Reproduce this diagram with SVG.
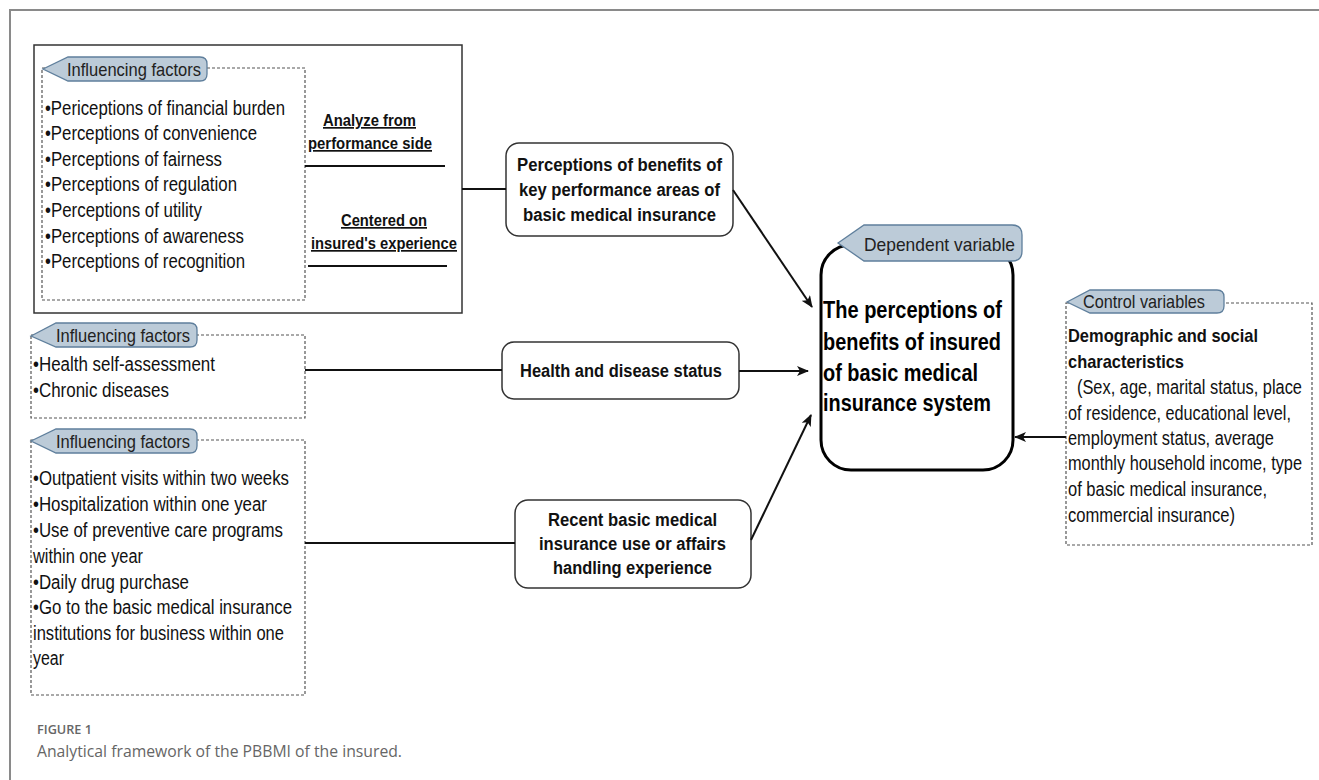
<svg xmlns="http://www.w3.org/2000/svg" width="1319" height="780" viewBox="0 0 1319 780">
<defs>
<style>
.frame{fill:none;stroke:#8a8a8a;stroke-width:2}
.solid{fill:none;stroke:#333;stroke-width:1.5}
.dot{fill:none;stroke:#555;stroke-width:1.2;stroke-dasharray:3 2}
.tag{fill:#bccbd8;stroke:#5f7f9c;stroke-width:1.3}
.node{fill:#fff;stroke:#333;stroke-width:1.5}
.main{fill:#fff;stroke:#000;stroke-width:3}
.t{font-family:"Liberation Sans",Arial,sans-serif;font-size:20px;fill:#111}
.tb{font-family:"Liberation Sans",Arial,sans-serif;font-size:18px;font-weight:bold;fill:#111}
.tm{font-family:"Liberation Sans",Arial,sans-serif;font-size:23px;font-weight:bold;fill:#000}
.tu{font-family:"Liberation Sans",Arial,sans-serif;font-size:17px;font-weight:bold;fill:#111;text-decoration:underline}
.tg{font-family:"Liberation Sans",Arial,sans-serif;font-size:19px;fill:#222}
.cap1{font-family:"Open Sans","Liberation Sans",sans-serif;font-size:13px;font-weight:600;fill:#666}
.cap2{font-family:"Open Sans","Liberation Sans",sans-serif;font-size:16px;fill:#666}
.ln{fill:none;stroke:#111;stroke-width:2}
</style>
<marker id="ah" viewBox="0 0 12 10" refX="11" refY="5" markerWidth="12" markerHeight="10" markerUnits="userSpaceOnUse" orient="auto">
<path d="M0,0 L12,5 L0,10 L3,5 Z" fill="#111"/>
</marker>
</defs>

<path class="frame" d="M10,780 V10 H1319"/>

<g id="factors-performance">
<rect class="solid" x="34" y="45" width="428" height="268"/>
<rect class="dot" x="42" y="68" width="263" height="232"/>
<path class="tag" d="M43,69 L68,57 H200 Q207,57 207,64 V74 Q207,81 200,81 H68 Z"/>
<text class="tg" x="67" y="76" textLength="134" lengthAdjust="spacingAndGlyphs">Influencing factors</text>
<text class="t" x="45" y="115" textLength="240" lengthAdjust="spacingAndGlyphs">•Periceptions of financial burden</text>
<text class="t" x="45" y="140" textLength="212" lengthAdjust="spacingAndGlyphs">•Perceptions of convenience</text>
<text class="t" x="45" y="166" textLength="177" lengthAdjust="spacingAndGlyphs">•Perceptions of fairness</text>
<text class="t" x="45" y="191" textLength="192" lengthAdjust="spacingAndGlyphs">•Perceptions of regulation</text>
<text class="t" x="45" y="217" textLength="157" lengthAdjust="spacingAndGlyphs">•Perceptions of utility</text>
<text class="t" x="45" y="243" textLength="199" lengthAdjust="spacingAndGlyphs">•Perceptions of awareness</text>
<text class="t" x="45" y="268" textLength="200" lengthAdjust="spacingAndGlyphs">•Perceptions of recognition</text>
<text class="tu" x="369.5" y="126" text-anchor="middle" textLength="93" lengthAdjust="spacingAndGlyphs">Analyze from</text>
<text class="tu" x="370" y="149" text-anchor="middle" textLength="124" lengthAdjust="spacingAndGlyphs">performance side</text>
<line class="ln" x1="305" y1="166" x2="445" y2="166"/>
<text class="tu" x="384" y="226" text-anchor="middle" textLength="86" lengthAdjust="spacingAndGlyphs">Centered on</text>
<text class="tu" x="384" y="249" text-anchor="middle" textLength="146" lengthAdjust="spacingAndGlyphs">insured's experience</text>
<line class="ln" x1="308" y1="266" x2="447" y2="266"/>
</g>

<g id="factors-health">
<rect class="dot" x="31" y="335" width="274" height="83"/>
<path class="tag" d="M31,336 L56,323 H190 Q197,323 197,330 V340 Q197,347 190,347 H56 Z"/>
<text class="tg" x="56" y="342" textLength="134" lengthAdjust="spacingAndGlyphs">Influencing factors</text>
<text class="t" x="33" y="371" textLength="182" lengthAdjust="spacingAndGlyphs">•Health self-assessment</text>
<text class="t" x="33" y="397" textLength="136" lengthAdjust="spacingAndGlyphs">•Chronic diseases</text>
</g>

<g id="factors-use">
<rect class="dot" x="31" y="440" width="274" height="255"/>
<path class="tag" d="M31,441 L56,429 H190 Q197,429 197,436 V446 Q197,453 190,453 H56 Z"/>
<text class="tg" x="56" y="448" textLength="134" lengthAdjust="spacingAndGlyphs">Influencing factors</text>
<text class="t" x="33" y="485" textLength="256" lengthAdjust="spacingAndGlyphs">•Outpatient visits within two weeks</text>
<text class="t" x="33" y="511" textLength="234" lengthAdjust="spacingAndGlyphs">•Hospitalization within one year</text>
<text class="t" x="33" y="537" textLength="250" lengthAdjust="spacingAndGlyphs">•Use of preventive care programs</text>
<text class="t" x="33" y="563" textLength="110" lengthAdjust="spacingAndGlyphs">within one year</text>
<text class="t" x="33" y="589" textLength="156" lengthAdjust="spacingAndGlyphs">•Daily drug purchase</text>
<text class="t" x="33" y="614" textLength="259" lengthAdjust="spacingAndGlyphs">•Go to the basic medical insurance</text>
<text class="t" x="33" y="640" textLength="251" lengthAdjust="spacingAndGlyphs">institutions for business within one</text>
<text class="t" x="33" y="665" textLength="31" lengthAdjust="spacingAndGlyphs">year</text>
</g>

<g id="node-performance">
<rect class="node" x="506" y="143" width="227" height="93" rx="13"/>
<text class="tb" x="619.5" y="171" text-anchor="middle" textLength="205" lengthAdjust="spacingAndGlyphs">Perceptions of benefits of</text>
<text class="tb" x="619.5" y="196" text-anchor="middle" textLength="201" lengthAdjust="spacingAndGlyphs">key performance areas of</text>
<text class="tb" x="619.5" y="221" text-anchor="middle" textLength="193" lengthAdjust="spacingAndGlyphs">basic medical insurance</text>
</g>

<g id="node-health">
<rect class="node" x="502" y="342" width="237" height="57" rx="12"/>
<text class="tb" x="621" y="377" text-anchor="middle" textLength="202" lengthAdjust="spacingAndGlyphs">Health and disease status</text>
</g>

<g id="node-use">
<rect class="node" x="515" y="500" width="236" height="88" rx="13"/>
<text class="tb" x="632.5" y="526" text-anchor="middle" textLength="169" lengthAdjust="spacingAndGlyphs">Recent basic medical</text>
<text class="tb" x="632.5" y="550" text-anchor="middle" textLength="187" lengthAdjust="spacingAndGlyphs">insurance use or affairs</text>
<text class="tb" x="632.5" y="574" text-anchor="middle" textLength="159" lengthAdjust="spacingAndGlyphs">handling experience</text>
</g>

<g id="node-main">
<rect class="main" x="821" y="245" width="192" height="225" rx="30"/>
<path class="tag" d="M838,243 L864,225 H1012 Q1022,225 1022,235 V251 Q1022,261 1012,261 H864 Z"/>
<text class="tg" x="864" y="251" textLength="151" lengthAdjust="spacingAndGlyphs">Dependent variable</text>
<text class="tm" x="823" y="318" textLength="179" lengthAdjust="spacingAndGlyphs">The perceptions of</text>
<text class="tm" x="823" y="350" textLength="178" lengthAdjust="spacingAndGlyphs">benefits of insured</text>
<text class="tm" x="823" y="381" textLength="155" lengthAdjust="spacingAndGlyphs">of basic medical</text>
<text class="tm" x="823" y="411" textLength="168" lengthAdjust="spacingAndGlyphs">insurance system</text>
</g>

<g id="controls">
<rect class="dot" x="1066" y="303" width="246" height="242"/>
<path class="tag" d="M1067,302 L1090,290 H1217 Q1224,290 1224,297 V306 Q1224,313 1217,313 H1090 Z"/>
<text class="tg" x="1083" y="308" textLength="122" lengthAdjust="spacingAndGlyphs">Control variables</text>
<g transform="translate(1068 0) scale(0.8 1)">
<text class="tb" x="0" y="342" textLength="237.5" lengthAdjust="spacingAndGlyphs">Demographic and social</text>
<text class="tb" x="0" y="368" textLength="145" lengthAdjust="spacingAndGlyphs">characteristics</text>
<text class="t" x="11.25" y="394" textLength="281.25" lengthAdjust="spacingAndGlyphs">(Sex, age, marital status, place</text>
<text class="t" x="0" y="420" textLength="278.75" lengthAdjust="spacingAndGlyphs">of residence, educational level,</text>
<text class="t" x="0" y="445" textLength="257.5" lengthAdjust="spacingAndGlyphs">employment status, average</text>
<text class="t" x="0" y="470" textLength="292.5" lengthAdjust="spacingAndGlyphs">monthly household income, type</text>
<text class="t" x="0" y="496" textLength="248.75" lengthAdjust="spacingAndGlyphs">of basic medical insurance,</text>
<text class="t" x="0" y="522" textLength="208.75" lengthAdjust="spacingAndGlyphs">commercial insurance)</text>
</g>
</g>

<g id="connectors">
<line class="ln" x1="462" y1="189" x2="506" y2="189"/>
<line class="ln" x1="733" y1="190" x2="812" y2="307" marker-end="url(#ah)"/>
<line class="ln" x1="305" y1="370" x2="502" y2="370"/>
<line class="ln" x1="739" y1="371" x2="808" y2="371" marker-end="url(#ah)"/>
<line class="ln" x1="305" y1="543" x2="515" y2="543"/>
<line class="ln" x1="751" y1="540" x2="811" y2="415" marker-end="url(#ah)"/>
<line class="ln" x1="1066" y1="437" x2="1015" y2="437" marker-end="url(#ah)"/>
</g>

<text class="cap1" x="37" y="734" textLength="55" lengthAdjust="spacingAndGlyphs">FIGURE 1</text>
<text class="cap2" x="37" y="757" textLength="365" lengthAdjust="spacingAndGlyphs">Analytical framework of the PBBMI of the insured.</text>
</svg>
